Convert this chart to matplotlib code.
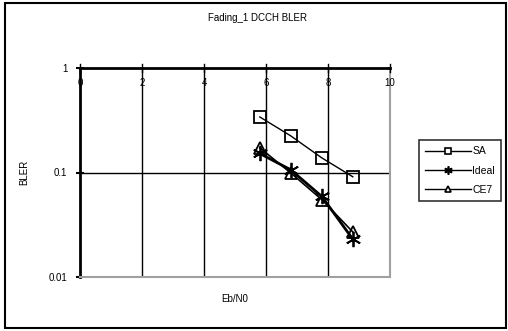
import matplotlib
matplotlib.use("Agg")
import matplotlib.pyplot as plt
from matplotlib.lines import Line2D
from matplotlib.patches import Rectangle

plt.rcParams['font.family'] = ['Liberation Sans', 'DejaVu Sans']

ebn0 = [5.8, 6.8, 7.8, 8.8]
sa = [0.34, 0.224, 0.138, 0.091]
ideal = [0.152, 0.106, 0.059, 0.023]
ce7 = [0.172, 0.099, 0.055, 0.027]
xticks = [0, 2, 4, 6, 8, 10]
yticks = [1, 0.1, 0.01]
ytick_labels = ['1', '0.1', '0.01']

fig = plt.figure(figsize=(5.08, 3.31), dpi=100)
fig.patches.append(Rectangle((5/508, 1-328/331), 501/508, 325/331, transform=fig.transFigure,
                             fill=False, edgecolor='black', linewidth=1.5))

ax = fig.add_axes([80/508, 1-277/331, 310/508, 209/331])
ax.set_yscale('log')
ax.set_xlim(0, 10)
ax.set_ylim(0.01, 1)

for x in xticks[1:-1]:
    ax.axvline(x, color='black', linewidth=1.0, zorder=1)
ax.axhline(0.1, color='black', linewidth=1.0, zorder=1)

ax.plot(ebn0, sa, color='black', linewidth=1.0, marker='s', markersize=9,
        markerfacecolor='none', markeredgecolor='black', markeredgewidth=1.3, zorder=3)
ax.plot(ebn0, ideal, color='black', linewidth=2.0, marker=(6, 2, 0), markersize=11,
        markeredgecolor='black', markeredgewidth=1.3, zorder=4)
ax.plot(ebn0, ce7, color='black', linewidth=1.2, marker='^', markersize=8,
        markerfacecolor='none', markeredgecolor='black', markeredgewidth=1.3, zorder=5)

ax.spines['top'].set_visible(False)
ax.spines['left'].set_linewidth(2.0)
ax.spines['right'].set_color('#a0a0a0')
ax.spines['bottom'].set_color('#a0a0a0')
ax.spines['right'].set_linewidth(1.5)
ax.spines['bottom'].set_linewidth(1.5)
ax.axhline(1, color='black', linewidth=2.0, clip_on=False, zorder=6)

ax.xaxis.set_ticks_position('none')
ax.set_xticks([])
for x in xticks:
    ax.plot([x, x], [0.915, 1.09], color='black', linewidth=1.0, clip_on=False, zorder=6)
    ax.text(x, 0.72, str(x), ha='center', va='center', fontsize=7)

ax.set_yticks(yticks)
ax.set_yticklabels(ytick_labels, fontsize=7)
ax.yaxis.set_minor_locator(matplotlib.ticker.NullLocator())
ax.tick_params(axis='y', direction='inout', length=6, width=1.5, pad=6)

ax.set_ylabel('BLER', fontsize=7, labelpad=14)
ax.set_xlabel('Eb/N0', fontsize=7, labelpad=12)
fig.text(258/508, 1-18/331, 'Fading_1 DCCH BLER', ha='center', va='center', fontsize=7)

handles = [
    Line2D([], [], color='black', linewidth=1.0, marker='s', markersize=4,
           markerfacecolor='white', markeredgewidth=1.2),
    Line2D([], [], color='black', linewidth=1.0, marker=(6, 2, 0), markersize=6,
           markeredgewidth=1.2),
    Line2D([], [], color='black', linewidth=1.0, marker='^', markersize=4,
           markerfacecolor='white', markeredgewidth=1.2),
]
leg = fig.legend(handles, ['SA', 'Ideal', 'CE7'], loc='upper left',
                 bbox_to_anchor=(419/508, 1-140/331), fontsize=7.5, frameon=True,
                 fancybox=False, edgecolor='black', handlelength=4.4, handletextpad=0.1,
                 borderpad=0.6, labelspacing=0.9, borderaxespad=0)
leg.get_frame().set_linewidth(1.2)

fig.savefig('out.png', dpi=100)
